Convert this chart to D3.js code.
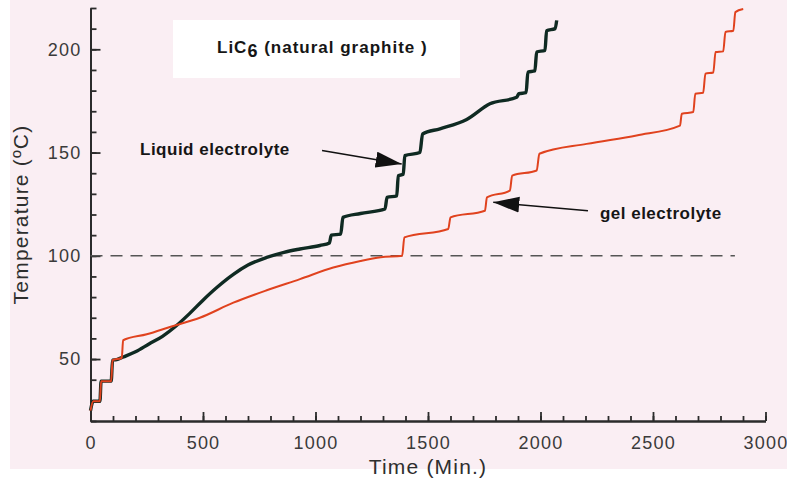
<!DOCTYPE html>
<html><head><meta charset="utf-8">
<script src="https://cdn.jsdelivr.net/npm/d3@7"></script>
<style>
html,body{margin:0;padding:0;background:#fff;}
svg{display:block;font-family:"Liberation Sans",Arial,Helvetica,sans-serif;}
</style></head>
<body><svg id="c" width="787" height="480"></svg>
<script>
// ---- data (time in minutes, temperature in °C) ----
const liquidTime = [0, 12, 42, 47, 92, 98, 116, 130, 146, 200, 260, 320, 380, 440, 500, 560, 635, 700, 783, 860, 931, 1020, 1062, 1070, 1112, 1122, 1200, 1309, 1318, 1361, 1368, 1390, 1397, 1464, 1476, 1553, 1672, 1775, 1894, 1904, 1936, 1944, 1975, 1983, 2020, 2027, 2065, 2072];
const liquidTemp = [25, 29.6, 29.6, 39.3, 39.3, 49.5, 49.7, 50.3, 51, 53.5, 57.3, 61, 66, 72, 78.5, 84.5, 91, 95.5, 99.2, 101.7, 103.3, 105, 106.2, 110, 110.5, 118.6, 120.5, 122.7, 128.3, 129, 138.8, 139.5, 148.5, 150, 159, 161.5, 166, 173.6, 176.8, 178.5, 179, 189, 189.5, 198.7, 199.5, 209, 210, 214];
const gelTime = [0, 12, 42, 47, 92, 98, 139, 145, 250, 360, 486, 635, 783, 931, 1079, 1200, 1290, 1385, 1395, 1590, 1600, 1753, 1762, 1864, 1874, 1983, 1995, 2205, 2427, 2620, 2628, 2679, 2688, 2723, 2733, 2768, 2778, 2812, 2822, 2857, 2866, 2901];
const gelTemp = [25, 29.6, 29.6, 39.3, 39.3, 49.5, 50.5, 59.1, 62, 65.8, 70, 77.3, 83.3, 88.7, 94.3, 97.5, 99.3, 100, 108.9, 113, 118.6, 121.8, 128.3, 131.6, 138.8, 141.3, 149.4, 154.2, 158.3, 163, 168.8, 169.6, 178.5, 179, 188.2, 188.8, 198.7, 199, 208.4, 209, 218, 219.5];
const xMajorTicks = [0, 500, 1000, 1500, 2000, 2500, 3000];
const yMajorTicks = [50, 100, 150, 200];
const refTemp = 100, refEnd = 2864;
const titleMain = "LiC", titleSub = "6", titleRest = " (natural graphite )";
const xTitle = "Time (Min.)", yTitle = "Temperature (ºC)";
const liquidLabel = {text: "Liquid electrolyte", x: 220, y: 149, from: [1029, 151], to: [1383, 144.5]};
const gelLabel = {text: "gel electrolyte", x: 2264, y: 118, from: [2211, 121.8], to: [1790, 125.9]};

// ---- layout ----
const svg = d3.select("#c");
const x = d3.scaleLinear().domain([0, 3000]).range([90.5, 765.5]);
const y = d3.scaleLinear().domain([20, 220]).range([421, 8]);

svg.append("rect").attr("x", 10).attr("y", 0).attr("width", 777).attr("height", 469).attr("fill", "#faeef3");
svg.append("rect").attr("x", 173).attr("y", 20).attr("width", 287).attr("height", 58).attr("fill", "#ffffff");

const axisColor = "#2b2b2b";
function styleAxis(g){
  g.selectAll("path").attr("stroke", axisColor).attr("stroke-width", 2);
  g.selectAll("line").attr("stroke", axisColor).attr("stroke-width", 1.8);
  g.selectAll("text").attr("fill", "#3a3a3a").attr("font-size", 18).attr("letter-spacing", 1.2);
}
// minor ticks
const gxm = svg.append("g").attr("transform", `translate(0,${y(20)})`)
  .call(d3.axisBottom(x).tickValues(d3.range(0, 3001, 100)).tickSize(-5).tickSizeOuter(0).tickFormat(""));
styleAxis(gxm);
const gym = svg.append("g").attr("transform", `translate(${x(0)},0)`)
  .call(d3.axisLeft(y).tickValues(d3.range(20, 221, 10)).tickSize(-6).tickSizeOuter(0).tickFormat(""));
styleAxis(gym);
// major ticks
const gx = svg.append("g").attr("transform", `translate(0,${y(20)})`)
  .call(d3.axisBottom(x).tickValues(xMajorTicks).tickSize(-9).tickSizeOuter(0).tickPadding(15).tickFormat(d3.format("d")));
styleAxis(gx);
const gy = svg.append("g").attr("transform", `translate(${x(0)},0)`)
  .call(d3.axisLeft(y).tickValues(yMajorTicks).tickSize(-10).tickSizeOuter(0).tickPadding(9).tickFormat(d3.format("d")));
styleAxis(gy);
gy.selectAll("text").attr("x", -9);

// axis titles
svg.append("text").attr("x", x(1500)).attr("y", 474).attr("text-anchor", "middle")
  .attr("font-size", 21).attr("letter-spacing", 1.2).attr("fill", "#2e2e2e").text(xTitle);
svg.append("text").attr("transform", `translate(28,${y(120)}) rotate(-90)`).attr("text-anchor", "middle")
  .attr("font-size", 21).attr("letter-spacing", 1.2).attr("fill", "#2e2e2e").text(yTitle);

// reference line
svg.append("line").attr("x1", x(0)).attr("x2", x(refEnd)).attr("y1", y(refTemp)).attr("y2", y(refTemp))
  .attr("stroke", "#555").attr("stroke-width", 1.6).attr("stroke-dasharray", "12,8");

// curves
const line = d3.line().x(d => x(d[0])).y(d => y(d[1])).curve(d3.curveMonotoneX);
svg.append("path").datum(d3.zip(liquidTime, liquidTemp)).attr("d", line)
  .attr("fill", "none").attr("stroke", "#0f2a22").attr("stroke-width", 3.4).attr("stroke-linejoin", "round");
svg.append("path").datum(d3.zip(gelTime, gelTemp)).attr("d", line)
  .attr("fill", "none").attr("stroke", "#e0421e").attr("stroke-width", 2).attr("stroke-linejoin", "round");

// title
const t = svg.append("text").attr("x", 217).attr("y", 53).attr("font-size", 17).attr("font-weight", "bold")
  .attr("letter-spacing", 1).attr("fill", "#161616");
t.append("tspan").text(titleMain);
t.append("tspan").attr("dy", 4).attr("font-size", 18).text(titleSub);
t.append("tspan").attr("dy", -4).text(titleRest);

// annotations
svg.append("defs").append("marker").attr("id", "ah").attr("markerUnits", "userSpaceOnUse")
  .attr("markerWidth", 28).attr("markerHeight", 18).attr("refX", 26).attr("refY", 8).attr("orient", "auto")
  .append("path").attr("d", "M0,0 L26,8 L0,16 Z").attr("fill", "#111");
[liquidLabel, gelLabel].forEach(a => {
  svg.append("line").attr("x1", x(a.from[0])).attr("y1", y(a.from[1])).attr("x2", x(a.to[0])).attr("y2", y(a.to[1]))
    .attr("stroke", "#111").attr("stroke-width", 1.5).attr("marker-end", "url(#ah)");
  svg.append("text").attr("x", x(a.x)).attr("y", y(a.y)).attr("font-size", 17).attr("font-weight", "bold")
    .attr("letter-spacing", 0.5).attr("fill", "#161616").text(a.text);
});
</script></body></html>
